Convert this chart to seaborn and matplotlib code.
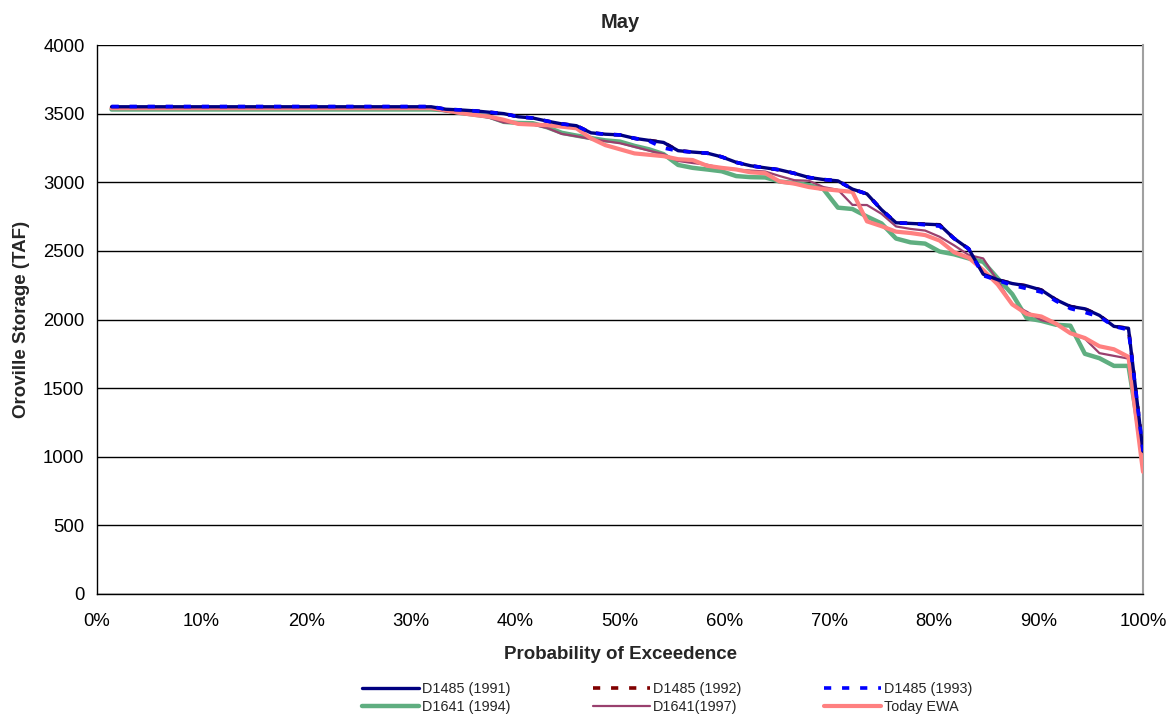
import matplotlib
matplotlib.use("Agg")
import matplotlib.pyplot as plt
import numpy as np
import pandas as pd
import seaborn as sns

# Oroville end-of-May storage (TAF), sorted from largest to smallest
d1485_1991 = [3550] * 23 + [
    3532, 3527, 3520, 3510, 3500, 3477, 3468, 3445, 3425, 3412,
    3360, 3350, 3345, 3320, 3305, 3290, 3230, 3220, 3212, 3185,
    3145, 3120, 3105, 3090, 3065, 3035, 3020, 3010, 2950, 2915,
    2800, 2705, 2700, 2695, 2690, 2590, 2515, 2330, 2290, 2262,
    2245, 2215, 2145, 2095, 2078, 2030, 1950, 1936, 1040]
d1485_1992 = list(d1485_1991)
d1485_1993 = [3552] * 23 + [
    3532, 3527, 3520, 3510, 3500, 3477, 3468, 3445, 3425, 3412,
    3360, 3350, 3345, 3320, 3300, 3250, 3228, 3220, 3212, 3185,
    3145, 3120, 3105, 3090, 3065, 3035, 3020, 3010, 2950, 2915,
    2800, 2705, 2700, 2690, 2680, 2590, 2515, 2320, 2285, 2250,
    2225, 2200, 2135, 2080, 2052, 2020, 1950, 1925, 1040]
d1641_1994 = [3530] * 23 + [
    3525, 3505, 3492, 3478, 3440, 3432, 3430, 3400, 3360, 3340,
    3322, 3305, 3296, 3265, 3240, 3205, 3126, 3105, 3093, 3080,
    3045, 3037, 3035, 3005, 2995, 2980, 2950, 2815, 2805, 2750,
    2700, 2590, 2562, 2553, 2495, 2475, 2445, 2420, 2300, 2185,
    2010, 1990, 1962, 1955, 1750, 1718, 1662, 1662, 1000]
d1641_1997 = [3540] * 22 + [
    3535, 3515, 3500, 3490, 3470, 3435, 3430, 3420, 3395, 3352,
    3335, 3315, 3300, 3284, 3258, 3230, 3205, 3155, 3140, 3128,
    3103, 3092, 3085, 3078, 3045, 3015, 3011, 2965, 2945, 2835,
    2834, 2770, 2678, 2660, 2648, 2603, 2540, 2470, 2445, 2280,
    2110, 2057, 1995, 1972, 1900, 1860, 1755, 1735, 1715, 1010]
today_ewa = [3540] * 23 + [
    3525, 3505, 3490, 3478, 3455, 3425, 3420, 3416, 3405, 3393,
    3320, 3270, 3240, 3210, 3200, 3190, 3168, 3162, 3120, 3105,
    3093, 3072, 3066, 3005, 2990, 2965, 2950, 2940, 2930, 2715,
    2680, 2640, 2630, 2615, 2575, 2490, 2450, 2360, 2255, 2110,
    2040, 2022, 1970, 1900, 1865, 1805, 1783, 1728, 890]

series_names = ["D1485 (1991)", "D1485 (1992)", "D1485 (1993)",
                "D1641 (1994)", "D1641(1997)", "Today EWA"]
series_values = [d1485_1991, d1485_1992, d1485_1993,
                 d1641_1994, d1641_1997, today_ewa]
x_ticks = [0, 10, 20, 30, 40, 50, 60, 70, 80, 90, 100]
y_ticks = [0, 500, 1000, 1500, 2000, 2500, 3000, 3500, 4000]

# exceedance probability from rank (rank / n)
frames = []
for name, vals in zip(series_names, series_values):
    n = len(vals)
    rank = np.arange(1, n + 1)
    frames.append(pd.DataFrame({"series": name,
                                "prob": rank / n * 100.0,
                                "storage": vals}))
df = pd.concat(frames, ignore_index=True)

sns.set_style("white")
plt.rcParams["font.family"] = ["Liberation Sans", "DejaVu Sans"]

fig = plt.figure(figsize=(11.72, 7.19), dpi=100)
ax = fig.add_axes([97 / 1172, 1 - 594 / 719, (1143 - 97) / 1172, (594 - 45) / 719])

styles = {
    "D1485 (1992)": dict(color="#800000", lw=2.6, dashes=(2.0, 3.0), z=2),
    "D1641 (1994)": dict(color="#5FAE80", lw=3.2, dashes=None, z=3),
    "D1641(1997)": dict(color="#99406E", lw=1.6, dashes=None, z=4),
    "Today EWA": dict(color="#FF8080", lw=3.0, dashes=None, z=5),
    "D1485 (1991)": dict(color="#000080", lw=2.4, dashes=None, z=6),
    "D1485 (1993)": dict(color="#0000FF", lw=2.6, dashes=(2.0, 3.0), z=7),
}

handles = {}
for name in ["D1485 (1992)", "D1641 (1994)", "D1641(1997)", "Today EWA",
             "D1485 (1991)", "D1485 (1993)"]:
    st = styles[name]
    sub = df[df["series"] == name]
    sns.lineplot(data=sub, x="prob", y="storage", ax=ax, color=st["color"],
                 linewidth=st["lw"], label=name, zorder=st["z"],
                 estimator=None, sort=False)
    line = ax.get_lines()[-1]
    if st["dashes"] is not None:
        line.set_dashes(st["dashes"])
    handles[name] = line

ax.set_xlim(0, 100)
ax.set_ylim(0, 4000)
ax.set_xticks(x_ticks)
ax.set_xticklabels([f"{t}%" for t in x_ticks])
ax.set_yticks(y_ticks)
ax.yaxis.grid(True, color="black", linewidth=1.0)
ax.set_axisbelow(True)
ax.tick_params(axis="both", direction="out", length=5, width=1,
               labelsize=13.3, colors="black", pad=4)
ax.tick_params(axis="x", pad=9)

for side in ["left", "bottom"]:
    ax.spines[side].set_color("black")
    ax.spines[side].set_linewidth(1.0)
ax.spines["top"].set_visible(False)
ax.spines["right"].set_color("#A0A0A0")
ax.spines["right"].set_linewidth(1.5)

ax.set_title("May", fontsize=14.5, fontweight="bold", pad=12)
ax.set_xlabel("Probability of Exceedence", fontsize=13.5, fontweight="bold", labelpad=11)
ax.set_ylabel("Oroville Storage (TAF)", fontsize=13.5, fontweight="bold", labelpad=9)

ax.legend_.remove()
order = ["D1485 (1991)", "D1641 (1994)", "D1485 (1992)", "D1641(1997)",
         "D1485 (1993)", "Today EWA"]
fig.legend([handles[k] for k in order], order, loc="center",
           bbox_to_anchor=(667 / 1172, 1 - 698 / 719), ncol=3, frameon=False,
           fontsize=10.4, handlelength=3.95, handletextpad=0.2,
           columnspacing=5.7, labelspacing=0.3)

fig.savefig("out.png", dpi=100)
